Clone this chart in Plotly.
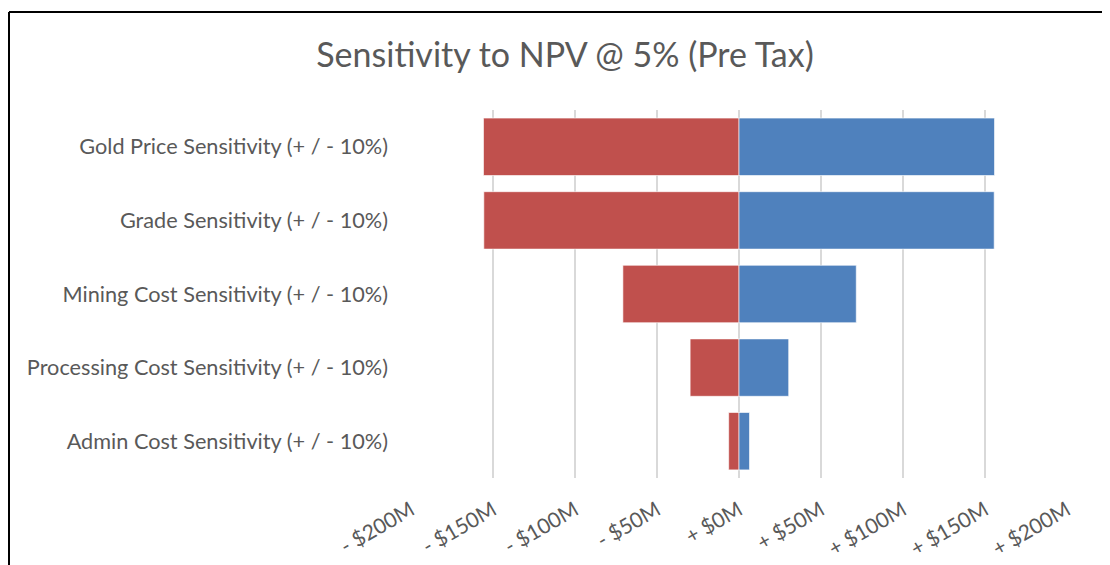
import plotly.graph_objects as go

categories = [
    "Gold Price Sensitivity (+ / - 10%)",
    "Grade Sensitivity (+ / - 10%)",
    "Mining Cost Sensitivity (+ / - 10%)",
    "Processing Cost Sensitivity (+ / - 10%)",
    "Admin Cost Sensitivity (+ / - 10%)",
]
downside = [-155.8, -155.6, -70.8, -29.8, -6.3]
upside = [155.8, 155.6, 71.5, 30.3, 6.4]
tick_vals = [-200, -150, -100, -50, 0, 50, 100, 150, 200]
tick_text = ["- $200M", "- $150M", "- $100M", "- $50M", "+ $0M",
             "+ $50M", "+ $100M", "+ $150M", "+ $200M"]

# page body has an 8px margin; figure sized to fit the window
OFF = 8
W, H = 1110 - OFF, 565 - OFF
ML = 411 - OFF
MR = W - (1067 - OFF)
MT = 110 - OFF
MB = H - (478 - OFF)
PW, PH = W - ML - MR, H - MT - MB

def px(x):
    return (x - OFF - ML) / PW

def py(y):
    return (H - MB - (y - OFF)) / PH

fig = go.Figure()
fig.add_trace(go.Bar(
    y=categories, x=downside, orientation="h", width=0.78,
    marker=dict(color="#C0504D", line=dict(color="rgba(255,255,255,0.6)", width=1)),
    name="Downside", showlegend=False,
))
fig.add_trace(go.Bar(
    y=categories, x=upside, orientation="h", width=0.78,
    marker=dict(color="#4F81BD", line=dict(color="rgba(255,255,255,0.6)", width=1)),
    name="Upside", showlegend=False,
))

font_family = "Lato, 'Open Sans', sans-serif"
fig.update_layout(
    width=W, height=H,
    margin=dict(l=ML, r=MR, t=MT, b=MB, autoexpand=False),
    barmode="overlay",
    paper_bgcolor="white", plot_bgcolor="white",
    font=dict(family=font_family, color="#595959"),
    title=dict(text="Sensitivity to NPV @ 5% (Pre Tax)", xref="container",
               x=(565 - OFF) / W, xanchor="center",
               yref="container", y=1 - (55 - OFF) / H, yanchor="middle",
               font=dict(size=34, color="#595959", family=font_family)),
    xaxis=dict(range=[-200, 200], tickvals=tick_vals, ticktext=tick_text,
               tickangle=-30, showgrid=True, gridcolor="#d9d9d9", gridwidth=1.5,
               zeroline=False, showline=False, ticklabelstandoff=15,
               automargin=False,
               tickfont=dict(size=21, color="#595959")),
    yaxis=dict(categoryorder="array", categoryarray=categories, autorange="reversed",
               showgrid=False, zeroline=False, showline=False, ticklabelstandoff=22,
               automargin=False,
               tickfont=dict(size=21.7, color="#595959")),
    shapes=[
        dict(type="line", xref="paper", yref="paper", x0=px(9), x1=px(1120),
             y0=py(12), y1=py(12), line=dict(color="black", width=2)),
        dict(type="line", xref="paper", yref="paper", x0=px(9), x1=px(9),
             y0=py(12), y1=py(580), line=dict(color="black", width=2)),
    ],
)

fig.write_html("out.html")
